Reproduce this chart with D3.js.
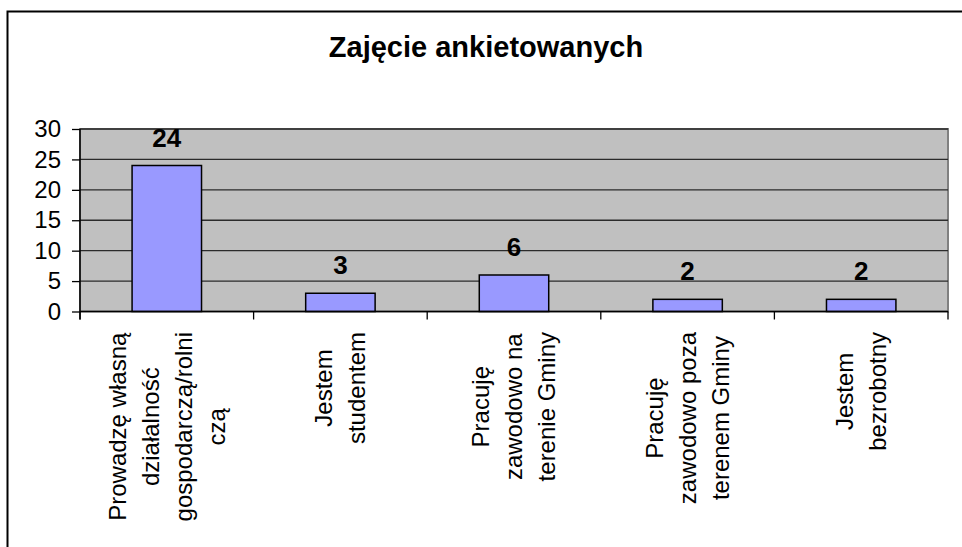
<!DOCTYPE html>
<html>
<head>
<meta charset="utf-8">
<script src="https://cdn.jsdelivr.net/npm/d3@7"></script>
<style>
  body { margin: 0; background: #fff; }
  svg { display: block; font-family: "Liberation Sans", Arial, sans-serif; }
</style>
</head>
<body>
<svg id="chart" width="962" height="547"></svg>
<script>
// Chart data
const title = 'Zajęcie ankietowanych';
const categoryLines = [
  ['Prowadzę własną', 'działalność', 'gospodarczą/rolni', 'czą'],
  ['Jestem', 'studentem'],
  ['Pracuję', 'zawodowo na', 'terenie Gminy'],
  ['Pracuję', 'zawodowo poza', 'terenem Gminy'],
  ['Jestem', 'bezrobotny']
];
const values = [24, 3, 6, 2, 2];
const yTicks = [0, 5, 10, 15, 20, 25, 30];

const svg = d3.select('#chart');

// Outer chart frame (runs off the right and bottom edges)
svg.append('rect')
  .attr('x', 7.5).attr('y', 11.5)
  .attr('width', 1000).attr('height', 600)
  .attr('fill', 'none')
  .attr('stroke', '#000')
  .attr('stroke-width', 2);

// Plot area
const plot = { left: 80, right: 948, top: 129, bottom: 311.5 };

const x = d3.scaleBand()
  .domain(d3.range(values.length))
  .range([plot.left, plot.right])
  .paddingInner(0.6)
  .paddingOuter(0.3);

const y = d3.scaleLinear()
  .domain([0, 30])
  .range([plot.bottom, plot.top]);

// Gray background
svg.append('rect')
  .attr('x', plot.left).attr('y', plot.top)
  .attr('width', plot.right - plot.left)
  .attr('height', plot.bottom - plot.top)
  .attr('fill', '#c0c0c0')
  .attr('stroke', '#808080')
  .attr('stroke-width', 2);

// Gridlines
svg.append('g')
  .selectAll('line')
  .data(yTicks.filter(d => d > 0))
  .join('line')
  .attr('x1', plot.left).attr('x2', plot.right)
  .attr('y1', d => y(d)).attr('y2', d => y(d))
  .attr('stroke', '#2b2b2b')
  .attr('stroke-width', 1.3);

// Bars
svg.append('g')
  .selectAll('rect')
  .data(values)
  .join('rect')
  .attr('x', (d, i) => x(i))
  .attr('y', d => y(d))
  .attr('width', x.bandwidth())
  .attr('height', d => y(0) - y(d))
  .attr('fill', '#9999ff')
  .attr('stroke', '#000')
  .attr('stroke-width', 1.5);

// Value labels
svg.append('g')
  .selectAll('text')
  .data(values)
  .join('text')
  .attr('x', (d, i) => x(i) + x.bandwidth() / 2)
  .attr('y', d => y(d) - 19)
  .attr('text-anchor', 'middle')
  .attr('font-size', 26)
  .attr('font-weight', 'bold')
  .text(d => d);

// Y axis
const yAxis = svg.append('g')
  .attr('transform', `translate(${plot.left},0)`)
  .call(d3.axisLeft(y).tickValues(yTicks).tickSize(8).tickPadding(11));
yAxis.select('.domain').attr('stroke', '#000').attr('stroke-width', 1.5)
  .attr('d', `M0,${plot.top}V${plot.bottom + 8}`);
yAxis.selectAll('.tick line').attr('stroke', '#000').attr('stroke-width', 1.3);
yAxis.selectAll('.tick text')
  .attr('font-size', 24)
  .attr('font-family', '"Liberation Sans", Arial, sans-serif')
  .attr('fill', '#000');

// X axis line and category separators
const step = x.step();
svg.append('line')
  .attr('x1', plot.left).attr('x2', plot.right)
  .attr('y1', plot.bottom).attr('y2', plot.bottom)
  .attr('stroke', '#000').attr('stroke-width', 1.5);
svg.append('g')
  .selectAll('line')
  .data(d3.range(values.length + 1))
  .join('line')
  .attr('x1', i => plot.left + i * step)
  .attr('x2', i => plot.left + i * step)
  .attr('y1', plot.bottom).attr('y2', plot.bottom + 8)
  .attr('stroke', '#000').attr('stroke-width', 1.3);

// Category labels, rotated, lines centred on each other
const lineGap = 33;
const labelTop = 332;
categoryLines.forEach((lines, i) => {
  const cx = x(i) + x.bandwidth() / 2;
  const g = svg.append('g');
  const texts = lines.map((line, j) => {
    const lx = cx + (j - (lines.length - 1) / 2) * lineGap;
    return g.append('text')
      .attr('font-size', 24)
      .attr('text-anchor', 'middle')
      .attr('dy', '0.35em')
      .attr('data-x', lx)
      .text(line);
  });
  const maxLen = d3.max(texts, t => t.node().getComputedTextLength());
  const cy = labelTop + maxLen / 2;
  texts.forEach(t => {
    t.attr('transform', `translate(${t.attr('data-x')},${cy}) rotate(-90)`);
  });
});

// Title
svg.append('text')
  .attr('x', 486).attr('y', 57)
  .attr('text-anchor', 'middle')
  .attr('font-size', 29)
  .attr('font-weight', 'bold')
  .text(title);
</script>
</body>
</html>
